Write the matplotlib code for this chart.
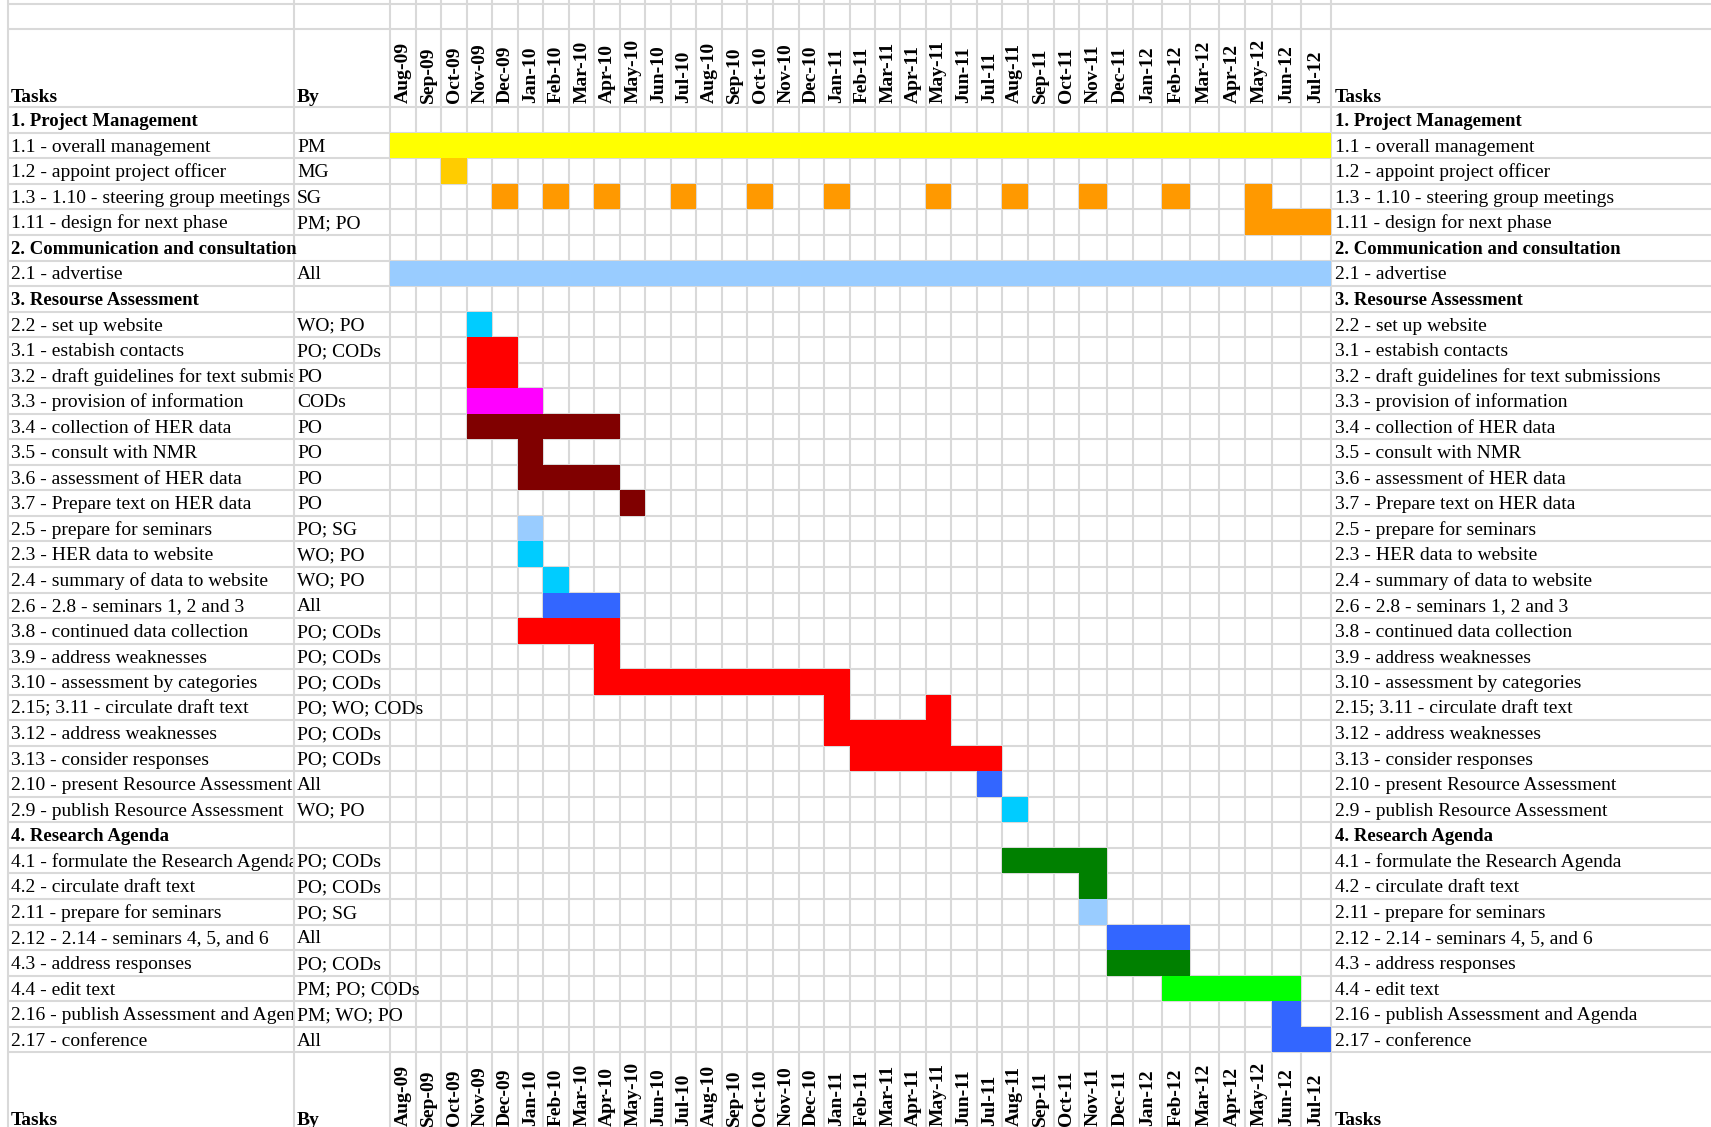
import numpy as np
import matplotlib
matplotlib.use('Agg')
import matplotlib.pyplot as plt
from matplotlib.transforms import Bbox

plt.rcParams['font.family'] = ['Liberation Serif', 'DejaVu Serif']

# ---- data -------------------------------------------------------------
months = ['Aug-09', 'Sep-09', 'Oct-09', 'Nov-09', 'Dec-09',
          'Jan-10', 'Feb-10', 'Mar-10', 'Apr-10', 'May-10', 'Jun-10', 'Jul-10',
          'Aug-10', 'Sep-10', 'Oct-10', 'Nov-10', 'Dec-10',
          'Jan-11', 'Feb-11', 'Mar-11', 'Apr-11', 'May-11', 'Jun-11', 'Jul-11',
          'Aug-11', 'Sep-11', 'Oct-11', 'Nov-11', 'Dec-11',
          'Jan-12', 'Feb-12', 'Mar-12', 'Apr-12', 'May-12', 'Jun-12', 'Jul-12']

tasks = [
    '1. Project Management',
    '1.1 - overall management',
    '1.2 - appoint project officer',
    '1.3 - 1.10 - steering group meetings',
    '1.11 - design for next phase',
    '2. Communication and consultation',
    '2.1 - advertise',
    '3. Resourse Assessment',
    '2.2 - set up website',
    '3.1 - estabish contacts',
    '3.2 - draft guidelines for text submissions',
    '3.3 - provision of information',
    '3.4 - collection of HER data',
    '3.5 - consult with NMR',
    '3.6 - assessment of HER data',
    '3.7 - Prepare text on HER data',
    '2.5 - prepare for seminars',
    '2.3 - HER data to website',
    '2.4 - summary of data to website',
    '2.6 - 2.8 - seminars 1, 2 and 3',
    '3.8 - continued data collection',
    '3.9 - address weaknesses',
    '3.10 - assessment by categories',
    '2.15; 3.11 - circulate draft text',
    '3.12 - address weaknesses',
    '3.13 - consider responses',
    '2.10 - present Resource Assessment',
    '2.9 - publish Resource Assessment',
    '4. Research Agenda',
    '4.1 - formulate the Research Agenda',
    '4.2 - circulate draft text',
    '2.11 - prepare for seminars',
    '2.12 - 2.14 - seminars 4, 5, and 6',
    '4.3 - address responses',
    '4.4 - edit text',
    '2.16 - publish Assessment and Agenda',
    '2.17 - conference',
]

owners = ['', 'PM', 'MG', 'SG', 'PM; PO', '', 'All', '', 'WO; PO', 'PO; CODs',
          'PO', 'CODs', 'PO', 'PO', 'PO', 'PO', 'PO; SG', 'WO; PO', 'WO; PO',
          'All', 'PO; CODs', 'PO; CODs', 'PO; CODs', 'PO; WO; CODs', 'PO; CODs',
          'PO; CODs', 'All', 'WO; PO', '', 'PO; CODs', 'PO; CODs', 'PO; SG',
          'All', 'PO; CODs', 'PM; PO; CODs', 'PM; WO; PO', 'All']

# one entry per shaded block: task row, first month, number of months
bar_rows = [1, 2, 3, 3, 3, 3, 3, 3, 3, 3, 3, 3, 3, 4, 6, 8, 9, 10, 11, 12, 13,
            14, 15, 16, 17, 18, 19, 20, 21, 22, 23, 23, 24, 25, 26, 27, 29, 30,
            31, 32, 33, 34, 35, 36]
bar_start = ['Aug-09', 'Oct-09',
             'Dec-09', 'Feb-10', 'Apr-10', 'Jul-10', 'Oct-10', 'Jan-11',
             'May-11', 'Aug-11', 'Nov-11', 'Feb-12', 'May-12',
             'May-12', 'Aug-09', 'Nov-09', 'Nov-09', 'Nov-09', 'Nov-09',
             'Nov-09', 'Jan-10', 'Jan-10', 'May-10', 'Jan-10', 'Jan-10',
             'Feb-10', 'Feb-10', 'Jan-10', 'Apr-10', 'Apr-10', 'Jan-11',
             'May-11', 'Jan-11', 'Feb-11', 'Jul-11', 'Aug-11', 'Aug-11',
             'Nov-11', 'Nov-11', 'Dec-11', 'Dec-11', 'Feb-12', 'Jun-12', 'Jun-12']
bar_len = [36, 1, 1, 1, 1, 1, 1, 1, 1, 1, 1, 1, 1, 3, 36, 1, 2, 2, 3, 6, 1, 4,
           1, 1, 1, 1, 3, 4, 1, 10, 1, 1, 5, 6, 1, 1, 4, 1, 1, 3, 3, 5, 1, 2]

# ---- style ------------------------------------------------------------
YELLOW, GOLD, ORANGE = '#FFFF00', '#FFCC00', '#FF9900'
LBLUE, CYAN, BLUE = '#99CCFF', '#00CCFF', '#3366FF'
RED, MAGENTA, MAROON = '#FF0000', '#FF00FF', '#800000'
GREEN, LIME = '#008000', '#00FF00'
row_colors = [None, YELLOW, GOLD, ORANGE, ORANGE, None, LBLUE, None, CYAN,
              RED, RED, MAGENTA, MAROON, MAROON, MAROON, MAROON, LBLUE, CYAN,
              CYAN, BLUE, RED, RED, RED, RED, RED, RED, BLUE, CYAN, None,
              GREEN, GREEN, LBLUE, BLUE, GREEN, LIME, BLUE, BLUE]
GRID = '#D9D9D9'
FS = 14
FS_SECTION = 13.5

# ---- sheet layout (pixels) ----------------------------------------------
W, H = 1711, 1127
col_edges = [390.3, 416, 441.5, 466.9, 492.5, 517.8, 543.4, 569, 594.3, 620.1,
             645.5, 671, 696.4, 722.3, 747.3, 773.2, 798.7, 824.1, 849.6, 875,
             900.4, 925.9, 951.3, 976.8, 1001.8, 1027.7, 1053.6, 1079.5, 1107.1,
             1133, 1162.5, 1190.2, 1218.6, 1245.5, 1272.3, 1301, 1331]
W_IN, W_OUT = 25.6, 30.0          # width used outside the month columns
LEFT_PX, BY_PX = 7.6, 294.0
TASK_X, BY_X, RIGHT_X = 11, 297, 1335
ROW0, ROW_H = 107.3, 25.54
HDR = 78 / ROW_H                  # header row height in rows
TOP_LINES = [-(ROW0 - 4) / ROW_H, -(ROW0 - 29.3) / ROW_H]
BASE = 0.74                       # baseline inside a row

edges = np.array(col_edges)
idx = np.arange(len(edges))


def m_to_px(m):
    m = np.asarray(m, dtype=float)
    px = np.interp(m, idx, edges)
    px = np.where(m < 0, edges[0] + m * W_IN, px)
    px = np.where(m > idx[-1], edges[-1] + (m - idx[-1]) * W_OUT, px)
    return px


def px_to_m(px):
    px = np.asarray(px, dtype=float)
    m = np.interp(px, edges, idx)
    m = np.where(px < edges[0], (px - edges[0]) / W_IN, m)
    m = np.where(px > edges[-1], idx[-1] + (px - edges[-1]) / W_OUT, m)
    return float(m) if m.ndim == 0 else m


fig = plt.figure(figsize=(W / 100, H / 100), dpi=100)
ax = fig.add_axes([0, 0, 1, 1])
ax.set_xscale('function', functions=(m_to_px, px_to_m))
ax.set_xlim(px_to_m(0), px_to_m(W))
ax.set_ylim((H - ROW0) / ROW_H, -ROW0 / ROW_H)
ax.axis('off')

# grid
y_top, y_bot = -ROW0 / ROW_H, (H - ROW0) / ROW_H
hlines = TOP_LINES + list(range(len(tasks) + 1)) + [len(tasks) + HDR]
ax.hlines(hlines, px_to_m(LEFT_PX), px_to_m(W), color=GRID, lw=1.5, zorder=1)
vlines = [px_to_m(LEFT_PX), px_to_m(BY_PX)] + list(idx)
ax.vlines(vlines, y_top, y_bot, color=GRID, lw=1.5, zorder=1)

# bars
midx = {m: i for i, m in enumerate(months)}
ax.barh([r + 0.5 for r in bar_rows], bar_len,
        left=[midx[s] for s in bar_start], height=1.0,
        color=[row_colors[r] for r in bar_rows], linewidth=0, zorder=2)

# task / owner text; the left task column is cut at the "By" column
clip = Bbox.from_extents(0, 0, BY_PX - 1, H)   # display pixels
for r, (task, who) in enumerate(zip(tasks, owners)):
    section = who == ''
    weight = 'bold' if section else 'normal'
    size = FS_SECTION if section else FS
    y = r + BASE
    t = ax.text(px_to_m(TASK_X), y, task, fontsize=size,
                fontweight=weight, va='baseline', ha='left', zorder=3)
    if who:
        t.set_clip_on(True)
        t.set_clip_box(clip)
        ax.text(px_to_m(BY_X), y, who, fontsize=FS,
                va='baseline', ha='left', zorder=3)
    ax.text(px_to_m(RIGHT_X), y, task, fontsize=size,
            fontweight=weight, va='baseline', ha='left', zorder=3)

# header rows (top and bottom)
for hb in (0, len(tasks) + HDR):
    for x, lab in ((TASK_X, 'Tasks'), (BY_X, 'By'), (RIGHT_X, 'Tasks')):
        ax.text(px_to_m(x), hb - 0.22, lab, fontsize=FS,
                fontweight='bold', va='baseline', ha='left', zorder=3)
    for i, lab in enumerate(months):
        ax.text(i + 0.5, hb - 0.16, lab, fontsize=FS, fontweight='bold',
                rotation=90, ha='center', va='bottom', zorder=3)

fig.savefig('out.png', dpi=100, facecolor='white')
